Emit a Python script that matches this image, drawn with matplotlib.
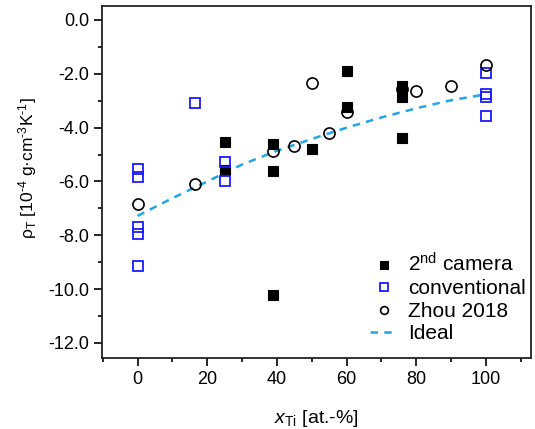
import matplotlib.pyplot as plt
import numpy as np
from matplotlib.ticker import MultipleLocator, FormatStrFormatter

plt.rcParams['font.family'] = ['Liberation Sans', 'DejaVu Sans']
plt.rcParams['mathtext.fontset'] = 'custom'
plt.rcParams['mathtext.rm'] = 'Liberation Sans'
plt.rcParams['mathtext.it'] = 'Liberation Sans:italic'
plt.rcParams['axes.unicode_minus'] = False

# 2nd camera measurements
cam_x = [25, 25, 39, 39, 39, 50, 60, 60, 76, 76, 76]
cam_y = [-4.53, -5.58, -4.61, -5.62, -10.22, -4.79, -1.88, -3.25, -2.47, -2.85, -4.39]

# conventional measurements
conv_x = [0, 0, 0, 0, 0, 16.5, 25, 25, 100, 100, 100, 100]
conv_y = [-5.54, -5.83, -7.71, -7.95, -9.13, -3.09, -5.26, -6.00, -1.98, -2.76, -2.85, -3.55]

# Zhou 2018
zhou_x = [0, 16.5, 39, 45, 50, 55, 60, 76, 80, 90, 100]
zhou_y = [-6.85, -6.10, -4.86, -4.69, -2.33, -4.21, -3.43, -2.57, -2.62, -2.45, -1.66]

# ideal mixture curve
ideal_x = [0, 10, 20, 30, 40, 50, 60, 70, 80, 90, 100]
ideal_y = [-7.28, -6.62, -6.00, -5.37, -4.86, -4.42, -4.00, -3.62, -3.28, -2.98, -2.76]

fig = plt.figure(figsize=(5.35, 4.29), dpi=100)
ax = fig.add_axes([0.1907, 0.1655, 0.8018, 0.8205])

ax.plot(ideal_x, ideal_y, ls=(0, (3, 2.5)), color='#22a6e6', lw=1.8, label='Ideal', zorder=1)
ax.plot(cam_x, cam_y, 's', ms=7.5, mfc='black', mec='black', mew=0.8, label='2$^{\\mathregular{nd}}$ camera', zorder=2)
ax.plot(conv_x, conv_y, 's', ms=7.5, mfc='none', mec='#1a1aff', mew=1.3, label='conventional', zorder=3)
ax.plot(zhou_x, zhou_y, 'o', ms=8, mfc='none', mec='black', mew=1.2, label='Zhou 2018', zorder=4)

ax.set_xlim(-10.2, 112.9)
ax.set_ylim(-12.56, 0.52)
ax.xaxis.set_major_locator(MultipleLocator(20))
ax.xaxis.set_minor_locator(MultipleLocator(10))
ax.yaxis.set_major_locator(MultipleLocator(2))
ax.yaxis.set_minor_locator(MultipleLocator(1))
ax.yaxis.set_major_formatter(FormatStrFormatter('%.1f'))

ax.tick_params(which='major', direction='out', length=5.5, width=1.2, labelsize=13)
ax.tick_params(which='minor', direction='out', length=3, width=1.2)
for s in ax.spines.values():
    s.set_linewidth(1.3)
    s.set_color('#222222')

ax.set_xlabel('$\\mathit{x}_{\\mathregular{Ti}}$ [at.-%]', fontsize=14, labelpad=15)
ax.set_ylabel('ρ$_{\\mathregular{T}}$ [10$^{\\text{-4}}$ g·cm$^{\\text{-3}}$K$^{\\text{-1}}$]',
              fontsize=12.5)
ax.yaxis.set_label_coords(-0.148, 0.54)

h, l = ax.get_legend_handles_labels()
order = [1, 2, 3, 0]
ax.legend([h[i] for i in order], [l[i] for i in order], loc='lower right', frameon=False,
          fontsize=15, markerscale=0.7, handlelength=1.3, handletextpad=0.5,
          labelspacing=0.17, borderaxespad=0.3, bbox_to_anchor=(1.021, 0.0))

fig.savefig('out.png', dpi=100)
